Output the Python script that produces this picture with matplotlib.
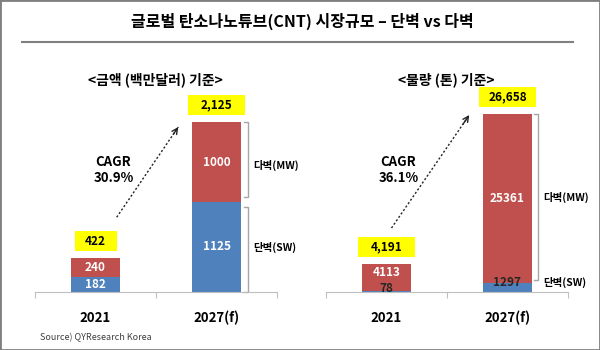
import matplotlib
matplotlib.use("Agg")
import matplotlib.pyplot as plt
from matplotlib.patches import Rectangle
from matplotlib.lines import Line2D

plt.rcParams['font.family'] = ['Noto Sans CJK KR', 'DejaVu Sans']

years = ['2021', '2027(f)']
value_sw = [182, 1125]     # 단벽, 백만달러
value_mw = [240, 1000]     # 다벽, 백만달러
volume_sw = [78, 1297]     # 단벽, 톤
volume_mw = [4113, 25361]  # 다벽, 톤
cagr_value = 'CAGR\n30.9%'
cagr_volume = 'CAGR\n36.1%'

BLUE = '#4F81BD'
RED = '#C0504D'
GRAY = '#A6A6A6'
W, H = 600, 350
PT = 0.72  # points per pixel at dpi 100

fig = plt.figure(figsize=(6, 3.5), dpi=100)


def axes_px(left, top, right, bottom):
    return fig.add_axes([left / W, 1 - bottom / H, (right - left) / W, (bottom - top) / H])


def setup(ax, sw, mw, tall_px):
    tot = [a + b for a, b in zip(sw, mw)]
    x = [0, 1]
    ax.bar(x, sw, 0.4, color=BLUE)
    ax.bar(x, mw, 0.4, bottom=sw, color=RED)
    ax.set_xlim(-0.5, 1.5)
    ax.set_ylim(0, tot[1] * 230 / tall_px)
    for s in ['top', 'left', 'right']:
        ax.spines[s].set_visible(False)
    ax.spines['bottom'].set_color('#BFBFBF')
    ax.set_xticks([-0.5, 0.5, 1.5])
    ax.set_xticklabels([])
    ax.tick_params(axis='x', length=4, color='#BFBFBF')
    ax.set_yticks([])
    ax.patch.set_alpha(0)
    sx = 2 / 242
    sy = ax.get_ylim()[1] / 230
    for i, yr in enumerate(years):
        ax.annotate(yr, (x[i], 0), xytext=(0, -26 * PT), textcoords='offset points',
                    ha='center', va='center', fontsize=9.5, fontweight='bold')
        lab = f'{tot[i]:,}'
        bw = 42 if len(lab) <= 3 else 57
        cy = tot[i] + 17 * sy
        ax.add_patch(Rectangle((x[i] - bw * sx / 2, cy - 10 * sy), bw * sx, 20 * sy,
                               facecolor='#FFFF00', edgecolor='none', clip_on=False))
        ax.text(x[i], cy, lab, ha='center', va='center', fontsize=8.5, fontweight='bold')
    return tot, sx, sy


def bracket(ax, x, y0, y1, sx, top=True, bottom=True):
    d = 4 * sx
    xs, ys = [x, x], [y0, y1]
    if top:
        xs, ys = xs + [x - d], ys + [y1]
    if bottom:
        xs, ys = [x - d] + xs, [y0] + ys
    ax.plot(xs, ys, color=GRAY, lw=1, clip_on=False)


def arrow(ax, start, end):
    ax.plot([start[0], end[0]], [start[1], end[1]], color='#222222', lw=1,
            linestyle=(0, (1.5, 1.5)), clip_on=False)
    fx = start[0] + (end[0] - start[0]) * 0.92
    fy = start[1] + (end[1] - start[1]) * 0.92
    ax.annotate('', xy=end, xytext=(fx, fy),
                arrowprops=dict(arrowstyle='->', lw=1, color='#222222', shrinkA=0, shrinkB=0))


# title
fig.text(302 / W, 1 - 21 / H, '글로벌 탄소나노튜브(CNT) 시장규모 – 단벽 vs 다벽',
         ha='center', va='center', fontsize=11.5, fontweight='bold')
fig.add_artist(Line2D([22 / W, 573 / W], [1 - 42 / H] * 2, color='#808080', lw=1.5))
fig.text(155 / W, 1 - 80 / H, '<금액 (백만달러) 기준>', ha='center', va='center',
         fontsize=10, fontweight='bold')
fig.text(446 / W, 1 - 80 / H, '<물량 (톤) 기준>', ha='center', va='center',
         fontsize=10, fontweight='bold')

# left panel: value
ax1 = axes_px(35, 62, 277, 292)
tot, sx, sy = setup(ax1, value_sw, value_mw, 170)
for i in range(2):
    ax1.text(i, value_sw[i] / 2, str(value_sw[i]), ha='center', va='center',
             color='white', fontsize=8.5, fontweight='bold')
    ax1.text(i, value_sw[i] + value_mw[i] / 2, str(value_mw[i]), ha='center', va='center',
             color='white', fontsize=8.5, fontweight='bold')
bx = 1 + 0.2 + 7 * sx
bracket(ax1, bx, value_sw[1] + 5 * sy, tot[1], sx)
bracket(ax1, bx, 0, value_sw[1] - 5 * sy, sx)
ax1.text(bx + 6 * sx, value_sw[1] + value_mw[1] / 2 - 3 * sy, '다벽(MW)', ha='left', va='center',
         fontsize=7.5, fontweight='bold')
ax1.text(bx + 6 * sx, value_sw[1] / 2, '단벽(SW)', ha='left', va='center',
         fontsize=7.5, fontweight='bold')
ax1.text(18 * sx, 122 * sy, cagr_value, ha='center', va='center', fontsize=9.5,
         fontweight='bold', linespacing=1.2)
arrow(ax1, (0.2 - 3 * sx, tot[0] + 41 * sy), (0.8 - 14 * sx, tot[1] - 5 * sy))

# right panel: volume
ax2 = axes_px(326, 62, 568, 292)
tot, sx, sy = setup(ax2, volume_sw, volume_mw, 178)
ax2.text(0, 19 * sy, str(volume_mw[0]), ha='center', va='center',
         color='white', fontsize=8.5, fontweight='bold')
ax2.text(0, 4 * sy, str(volume_sw[0]), ha='center', va='center',
         color='#262626', fontsize=8.5, fontweight='bold')
ax2.text(1, volume_sw[1] + volume_mw[1] / 2, str(volume_mw[1]), ha='center', va='center',
         color='white', fontsize=8.5, fontweight='bold')
ax2.text(1, 10 * sy, str(volume_sw[1]), ha='center', va='center',
         color='#262626', fontsize=8.5, fontweight='bold')
bx = 1 + 0.2 + 6 * sx
bracket(ax2, bx, 12 * sy, tot[1], sx)
ax2.text(bx + 6 * sx, 95 * sy, '다벽(MW)', ha='left', va='center',
         fontsize=7.5, fontweight='bold')
ax2.text(bx + 6 * sx, 10 * sy, '단벽(SW)', ha='left', va='center',
         fontsize=7.5, fontweight='bold')
ax2.text(12 * sx, 122 * sy, cagr_volume, ha='center', va='center', fontsize=9.5,
         fontweight='bold', linespacing=1.2)
arrow(ax2, (5 * sx, tot[0] + 36 * sy), (0.8 - 14 * sx, tot[1] - 1 * sy))

fig.text(40 / W, 1 - 338 / H, 'Source) QYResearch Korea', ha='left', va='center',
         fontsize=6.5, color='#404040')

fig.add_artist(Rectangle((0, 0), 1, 1, transform=fig.transFigure, fill=False,
                         edgecolor='#7F7F7F', lw=2))

fig.savefig('out.png', dpi=100)
